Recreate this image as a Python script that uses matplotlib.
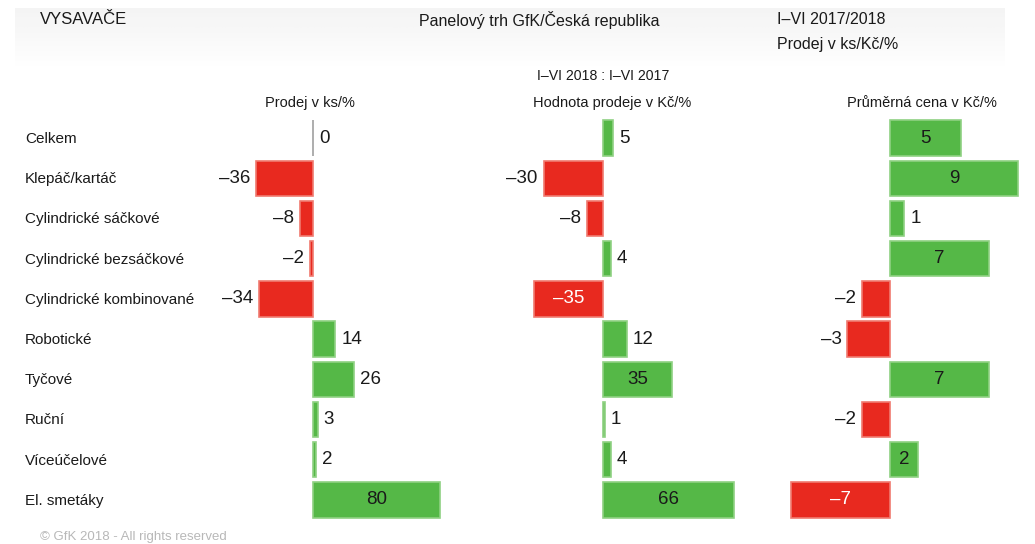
"""
GfK panel market, vacuum cleaners: change I-VI 2018 vs I-VI 2017 in three panels.
"""

import numpy as np
import matplotlib.pyplot as plt

plt.rcParams['font.family'] = ['Liberation Sans', 'DejaVu Sans']

# ============================ Data ============================
CATEGORIES = ['Celkem', 'Klepáč/kartáč', 'Cylindrické sáčkové', 'Cylindrické bezsáčkové',
              'Cylindrické kombinované', 'Robotické', 'Tyčové', 'Ruční', 'Víceúčelové',
              'El. smetáky']

SALES_UNITS = [0, -36, -8, -2, -34, 14, 26, 3, 2, 80]
SALES_VALUE = [5, -30, -8, 4, -35, 12, 35, 1, 4, 66]
AVG_PRICE = [5, 9, 1, 7, -2, -3, 7, -2, 2, -7]

# which labels sit inside the bar
INSIDE_UNITS = [False] * 9 + [True]
INSIDE_VALUE = [False, False, False, False, True, False, True, False, False, True]
INSIDE_PRICE = [True, True, False, True, False, False, True, False, True, True]

PANEL_TITLES = ['Prodej v ks/%', 'Hodnota prodeje v Kč/%', 'Průměrná cena v Kč/%']

# ============================ Style ============================
W, H = 1035, 544
GREEN = '#55b847'
GREEN_EDGE = '#8fd183'
RED = '#e8291f'
RED_EDGE = '#f07a70'
TEXT = '#1a1a1a'

# (left px, right px, zero px, px per unit)
PANELS = [
    (200, 460, 313, 1.585),
    (490, 770, 603, 1.98),
    (775, 1030, 890, 14.2),
]
TOP_PX, BOT_PX = 118, 520


def fx(px):
    return px / W


def fy(py):
    return 1 - py / H


def draw_panel(fig, panel, values, inside, title_x, title):
    left, right, zero, scale = panel
    ax = fig.add_axes([fx(left), fy(BOT_PX), (right - left) / W, (BOT_PX - TOP_PX) / H])
    ax.set_xlim((left - zero) / scale, (right - zero) / scale)
    ax.set_ylim(len(values) - 0.5, -0.5)
    ax.axis('off')

    y = np.arange(len(values))
    colors = [GREEN if v >= 0 else RED for v in values]
    edges = [GREEN_EDGE if v > 0 else (RED_EDGE if v < 0 else '#a0a0a0') for v in values]
    ax.barh(y, values, height=0.88, color=colors, edgecolor=edges, linewidth=1.2)

    pad = 6 / scale
    for yi, v, ins in zip(y, values, inside):
        label = str(v).replace('-', '\u2013')
        if ins:
            ax.text(v / 2, yi, label, ha='center', va='center', fontsize=13.5,
                    color='white' if v < 0 else TEXT)
        elif v >= 0:
            ax.text(v + pad, yi, label, ha='left', va='center', fontsize=13.5, color=TEXT)
        else:
            ax.text(v - pad, yi, label, ha='right', va='center', fontsize=13.5, color=TEXT)

    fig.text(fx(title_x), fy(103), title, ha='center', va='center', fontsize=10.5, color=TEXT)
    return ax


def main():
    fig = plt.figure(figsize=(W / 100, H / 100), dpi=100)

    # faint grey header band
    bg = fig.add_axes([fx(15), fy(68), fx(990), 60 / H])
    grad = np.linspace(1, 0, 50)[:, None] * np.ones((1, 10))
    bg.imshow(grad, aspect='auto', cmap='Greys', vmin=0, vmax=10, alpha=0.9)
    bg.axis('off')

    fig.text(fx(40), fy(20), 'VYSAVAČE', ha='left', va='center', fontsize=12, color=TEXT)
    fig.text(fx(539), fy(20), 'Panelový trh GfK/Česká republika', ha='center', va='center',
             fontsize=11.5, color=TEXT)
    fig.text(fx(777), fy(20), 'I–VI 2017/2018', ha='left', va='center', fontsize=11.5, color=TEXT)
    fig.text(fx(777), fy(45), 'Prodej v ks/Kč/%', ha='left', va='center', fontsize=11.5,
             color=TEXT)
    fig.text(fx(603), fy(76), 'I–VI 2018 : I–VI 2017', ha='center', va='center', fontsize=10.2,
             color=TEXT)

    draw_panel(fig, PANELS[0], SALES_UNITS, INSIDE_UNITS, 310, PANEL_TITLES[0])
    draw_panel(fig, PANELS[1], SALES_VALUE, INSIDE_VALUE, 612, PANEL_TITLES[1])
    draw_panel(fig, PANELS[2], AVG_PRICE, INSIDE_PRICE, 922, PANEL_TITLES[2])

    for i, cat in enumerate(CATEGORIES):
        fig.text(fx(25), fy(139 + i * 40.2), cat, ha='left', va='center', fontsize=11,
                 color=TEXT)

    fig.text(fx(40), fy(537), '© GfK 2018 - All rights reserved', ha='left', va='center',
             fontsize=9.5, color='#b8b8b8')

    fig.savefig('out.png', dpi=100)
    plt.close(fig)


if __name__ == '__main__':
    main()
